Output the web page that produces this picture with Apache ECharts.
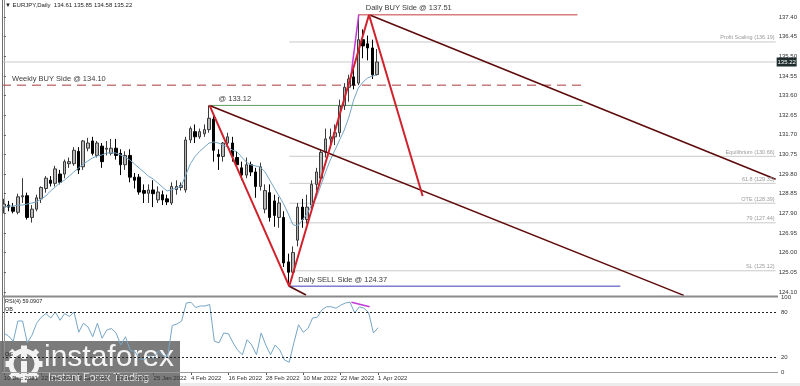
<!DOCTYPE html>
<html><head><meta charset="utf-8">
<script src="https://cdn.jsdelivr.net/npm/echarts@6/dist/echarts.min.js"></script>
<style>html,body{margin:0;padding:0;background:#fff;overflow:hidden}#c{width:800px;height:386px}</style>
</head><body><div id="c"></div>
<script>
// ---------------- DATA ----------------
const symbolTitle = 'EURJPY,Daily';
const lastOHLC = [134.61, 135.85, 134.58, 135.22];
const dateLabels = ['10 Dec 2021','22 Dec 2021','3 Jan 2022','13 Jan 2022','25 Jan 2022','4 Feb 2022','16 Feb 2022','28 Feb 2022','10 Mar 2022','22 Mar 2022','1 Apr 2022'];
const barsPerLabel = 8;
const opens  = [128.20,128.30,128.20,127.95,128.70,128.75,127.70,128.10,128.60,129.10,129.50,129.35,129.80,129.80,130.30,130.30,130.90,130.15,131.05,131.40,130.70,131.15,131.00,130.80,131.05,130.80,130.25,130.70,129.65,129.65,129.00,128.87,129.03,128.55,128.80,128.60,128.40,129.05,129.15,129.03,131.45,131.85,131.60,131.75,131.95,132.45,130.75,130.65,131.30,131.30,130.60,130.10,129.75,130.25,129.90,129.20,128.10,128.90,128.50,127.70,127.70,125.55,125.05,126.60,128.20,127.60,128.30,129.30,129.60,130.85,131.50,131.60,131.80,133.10,134.00,134.50,134.20,136.30,136.10,135.90,134.61];
const highs  = [128.60,128.50,128.40,128.85,129.60,128.90,128.30,128.80,129.20,129.70,129.70,130.20,130.00,130.50,130.60,131.10,131.10,131.45,131.55,131.60,131.40,131.30,131.40,131.50,131.50,131.00,130.90,131.00,129.85,129.80,129.30,129.30,129.50,129.20,129.00,128.80,129.40,129.50,129.40,131.60,132.10,132.20,132.00,132.20,133.12,132.60,131.00,131.35,131.80,131.60,130.90,130.40,130.60,130.40,130.10,130.35,129.30,129.30,128.80,128.70,128.00,125.95,126.30,128.40,128.60,128.80,129.50,130.10,131.00,132.00,132.00,132.20,133.40,134.20,134.60,135.00,137.51,136.80,136.50,136.30,135.85];
const lows   = [127.90,128.00,127.90,127.85,128.40,127.60,127.45,128.00,128.40,128.90,129.20,129.20,129.30,129.60,130.10,130.20,129.80,130.00,130.90,130.70,130.60,130.10,130.70,130.70,130.50,129.75,130.00,129.40,129.10,128.80,128.40,128.40,128.20,128.40,128.30,128.30,128.30,128.80,129.00,128.90,131.30,131.30,131.50,131.60,131.80,130.40,130.00,130.40,131.10,130.40,130.10,129.50,129.60,129.70,128.65,129.00,127.90,127.50,127.25,127.20,125.30,124.37,124.80,126.30,127.20,127.40,128.10,129.00,129.50,130.60,131.20,131.20,131.60,132.90,133.30,133.90,134.10,135.40,135.30,134.40,134.58];
const closes = [128.35,128.20,128.00,128.70,128.75,127.70,128.10,128.65,129.15,129.60,129.35,130.05,129.40,130.40,130.40,130.95,130.00,131.40,131.30,130.80,131.30,130.40,131.05,131.05,130.70,130.25,130.70,129.65,129.50,128.93,128.87,129.03,128.85,128.93,128.55,128.45,129.20,129.20,129.25,131.45,132.00,131.60,131.85,131.95,132.50,130.95,130.65,131.30,131.60,130.65,130.25,129.75,130.25,129.90,129.20,130.15,129.00,127.70,127.80,128.40,125.50,125.05,126.00,128.20,127.60,128.20,129.30,129.90,130.85,131.50,131.60,131.80,133.10,134.00,134.40,134.10,136.30,136.00,135.90,134.60,135.22];
const maValues = [128.20,128.25,128.25,128.30,128.30,128.35,128.40,128.45,128.59,128.74,128.98,129.17,129.37,129.51,129.70,129.90,130.09,130.29,130.43,130.58,130.67,130.72,130.82,130.82,130.82,130.72,130.62,130.48,130.29,130.09,129.90,129.70,129.56,129.37,129.17,128.98,129.05,129.12,129.20,129.75,130.30,130.65,130.90,131.10,131.30,131.35,131.30,131.20,131.11,130.96,130.87,130.62,130.38,130.24,130.19,130.14,129.90,129.51,129.12,128.74,128.35,127.87,127.35,127.28,127.57,127.87,128.30,128.64,129.27,129.90,130.48,130.96,131.45,131.93,132.56,133.38,133.96,134.25,134.45,134.54,134.59];
const rsiLabel = 'RSI(4) 59.0907';
const rsiValues = [52,48,41,68,68,39,49,65,73,78,72,80,69,78,74,80,53,65,60,47,65,45,56,58,52,36,47,29,27,18,16,22,18,28,22,20,62,64,68,92,93,86,88,88,90,41,39,52,51,39,29,23,43,36,23,52,36,23,36,29,16,13,39,63,53,58,72,73,83,87,87,85,89,92,93,79,87,85,79,52,59.09];
const priceTicks = [124.10,125.05,126.00,126.95,127.90,128.85,129.80,130.75,131.70,132.65,133.60,134.55,135.50,136.45,137.40];
const rsiTicks = [0,20,80,100];
const rsiBands = [20,80];
const bidPrice = 135.22;
// analysis objects (bar index, price)
const fibNames  = ['Profit Scaling','Equilibrium','61.8','OTE','79','SL'];
const fibPrices = [136.19,130.66,129.35,128.39,127.44,125.12];
const fibStartBar = 61.2;
const weeklyBuy = {price:134.10, from:-0.4, to:124.1, text:'Weekly BUY Side @ 134.10'};
const swingHigh = {price:133.12, from:44.1, to:124.1, text:'@ 133.12'};
const dailyBuy  = {price:137.51, from:76.1, to:123.0, text:'Daily BUY Side @ 137.51'};
const dailySell = {price:124.37, from:61.2, to:132.2, text:'Daily SELL Side @ 124.37'};
const zigzagBars   = [44.1, 61.2, 78.3, 89.8];
const zigzagPrices = [133.12, 124.37, 137.51, 128.74];
const channelUpper = [[78.6, 137.48], [165.5, 129.55]];
const channelLower = [[44.1, 133.12], [145.8, 123.93]];
const channelBase  = [[61.2, 124.37], [64.8, 123.95]];
const magentaPrice = [[74.4, 134.50], [76.1, 137.51]];
const magentaRsi   = [[74.3, 93], [78.2, 87]];

// ---------------- LAYOUT ----------------
const X_MIN = -0.4, X_MAX = 165.5;
const FONT = '"Liberation Sans", Arial, sans-serif';
const chart = echarts.init(document.getElementById('c'));

const candleData = opens.map((o,i)=>[i, o, closes[i], lows[i], highs[i]]);
const maData = maValues.map((v,i)=>[i,v]);
const rsiData = rsiValues.map((v,i)=>[i,v]);
const dateTicks = dateLabels.map((d,k)=>k*barsPerLabel);

function seg(data, color, width, type, z){
  return {type:'line', xAxisIndex:0, yAxisIndex:0, data, symbol:'none', silent:true, animation:false,
    lineStyle:{color, width, type: type||'solid'}, z: z||3, clip:true};
}
function hline(o, color, width, type){ return seg([[o.from,o.price],[o.to,o.price]], color, width, type, 2); }

const series = [];
fibPrices.forEach(p=>series.push(seg([[fibStartBar,p],[X_MAX,p]], '#c9c9c9', 1, 'solid', 1)));
series.push(seg([[X_MIN,bidPrice],[X_MAX,bidPrice]], '#c9c9c9', 1, 'solid', 1));
series.push(hline(weeklyBuy, '#a83a3a', 1, [9,6]));
series.push(hline(swingHigh, '#5f9c5f', 1));
series.push(hline(dailyBuy, '#d97c7c', 1.5));
series.push(hline(dailySell, '#7f7fcc', 1.5));
series.push({type:'candlestick', xAxisIndex:0, yAxisIndex:0, data:candleData, encode:{x:0,y:[1,2,3,4]},
  barWidth:3, animation:false, z:4,
  itemStyle:{color:'#b9b9b9', color0:'#000000', borderColor:'#3a3a3a', borderColor0:'#000000', borderWidth:1}});
series.push({type:'line', xAxisIndex:0, yAxisIndex:0, data:maData, symbol:'none', animation:false, z:5,
  lineStyle:{color:'#76a6c6', width:1}});
series.push(seg(channelLower, '#5e0b0b', 1.6, 'solid', 6));
series.push(seg(channelUpper, '#5e0b0b', 1.6, 'solid', 6));
series.push(seg(channelBase, '#5e0b0b', 1.6, 'solid', 6));
series.push(seg(magentaPrice, '#c23ad6', 1.5, 'solid', 6));
series.push(seg(zigzagBars.map((b,i)=>[b, zigzagPrices[i]]), '#d0222c', 2, 'solid', 7));
// RSI
series.push({type:'line', xAxisIndex:1, yAxisIndex:1, data:rsiData, symbol:'none', animation:false, z:3,
  lineStyle:{color:'#76a6c6', width:1},
  markLine:{silent:true, symbol:'none', animation:false, label:{show:false},
    lineStyle:{color:'#222', width:1, type:[2,2]},
    data: rsiBands.map(v=>({yAxis:v}))}});
series.push({type:'line', xAxisIndex:1, yAxisIndex:1, data:magentaRsi, symbol:'none', animation:false, z:4,
  lineStyle:{color:'#c23ad6', width:1.5}});

const axisText = {color:'#333', fontSize:6, fontFamily:FONT};
const option = {
  animation:false,
  backgroundColor:'#ffffff',
  grid:[
    {left:2, right:22, top:0, height:296},
    {left:2, right:22, top:297, height:75}
  ],
  xAxis:[
    {type:'value', gridIndex:0, min:X_MIN, max:X_MAX, show:false},
    {type:'value', gridIndex:1, min:X_MIN, max:X_MAX,
      axisLine:{show:false}, splitLine:{show:false},
      axisTick:{show:true, customValues:dateTicks, length:3, lineStyle:{color:'#555'}},
      axisLabel:{show:true, customValues:dateTicks, formatter:v=>dateLabels[Math.round(v/barsPerLabel)]||'', align:'left', margin:3, ...axisText}}
  ],
  yAxis:[
    {type:'value', gridIndex:0, position:'right', min:123.90, max:138.22, scale:true,
      axisLine:{show:true, lineStyle:{color:'#8f8f8f', width:1}},
      axisTick:{show:true, customValues:priceTicks, length:2, lineStyle:{color:'#555'}},
      axisLabel:{show:true, customValues:priceTicks, formatter:v=>v.toFixed(2), margin:3, ...axisText},
      splitLine:{show:false}},
    {type:'value', gridIndex:1, position:'right', min:0, max:100,
      axisLine:{show:true, lineStyle:{color:'#8f8f8f', width:1}},
      axisTick:{show:false},
      axisLabel:{show:true, customValues:rsiTicks, margin:3, ...axisText},
      splitLine:{show:false}}
  ],
  series
};
chart.setOption(option);

// ---------------- TEXT & DECOR ----------------
const P = (b,p)=>chart.convertToPixel({xAxisIndex:0,yAxisIndex:0},[b,p]);
const R = (b,v)=>chart.convertToPixel({xAxisIndex:1,yAxisIndex:1},[b,v]);
function txt(x,y,t,size,color,align,valign,extra){
  return Object.assign({type:'text', silent:true, z:50, style:{x, y, text:t, fill:color, fontSize:size, fontFamily:FONT,
    align:align||'left', verticalAlign:valign||'bottom', textAlign:align||'left', textVerticalAlign:valign||'bottom'}}, extra||{});
}
const g = [];
// frame
g.push({type:'line', silent:true, z:40, shape:{x1:2.5,y1:0,x2:2.5,y2:372}, style:{stroke:'#6e6e6e', lineWidth:1}});
g.push({type:'line', silent:true, z:40, shape:{x1:2,y1:296.5,x2:778,y2:296.5}, style:{stroke:'#8a8a8a', lineWidth:2}});
g.push({type:'line', silent:true, z:40, shape:{x1:2,y1:372.5,x2:778,y2:372.5}, style:{stroke:'#9a9a9a', lineWidth:1}});
g.push({type:'rect', silent:true, z:0, shape:{x:0,y:383,width:800,height:3}, style:{fill:'#ececec'}});
// header
g.push(txt(5,5,'\u25BC '+symbolTitle+'  '+lastOHLC.map(v=>v.toFixed(2)).join(' '),6,'#222','left','middle'));
// level labels
let a;
a = P(dailyBuy.from, dailyBuy.price); g.push(txt(a[0]+7, a[1]-2.5, dailyBuy.text, 7.5, '#3c3c3c'));
a = P(weeklyBuy.from, weeklyBuy.price); g.push(txt(a[0]+10, a[1]-2.5, weeklyBuy.text, 7.5, '#3c3c3c'));
a = P(swingHigh.from, swingHigh.price); g.push(txt(a[0]+9, a[1]-2.5, swingHigh.text, 7.5, '#3c3c3c'));
a = P(dailySell.from, dailySell.price); g.push(txt(a[0]+9, a[1]-2.5, dailySell.text, 7.5, '#3c3c3c'));
fibPrices.forEach((p,i)=>{ const q=P(X_MAX,p); g.push(txt(q[0]-1, q[1]-1, fibNames[i]+' ('+p.toFixed(2)+')', 5.5, '#9a9a9a','right','bottom')); });
// bid tag
a = P(X_MAX, bidPrice);
g.push({type:'rect', silent:true, z:45, shape:{x:a[0]+1, y:a[1]-4.5, width:20, height:9}, style:{fill:'#1f2d2d'}});
g.push(txt(a[0]+11, a[1], bidPrice.toFixed(2), 6, '#ffffff','center','middle',{z:46}));
// RSI labels
a = R(X_MIN, 100); g.push(txt(a[0]+3, a[1]+4, rsiLabel, 5.5, '#222','left','middle'));
a = R(X_MIN, 80); g.push(txt(a[0]+3, a[1]-3, 'OB', 5.5, '#222','left','middle'));
a = R(X_MIN, 20); g.push(txt(a[0]+3, a[1]-3, 'OS', 5.5, '#222','left','middle'));
// watermark
const wm = {type:'group', z:60, silent:true, children:[
  {type:'rect', shape:{x:0,y:341,width:180,height:45}, style:{fill:'rgba(105,105,105,0.88)'}},
  {type:'circle', shape:{cx:24,cy:364,r:13}, style:{fill:'none', stroke:'#f2f2f2', lineWidth:5}},
  {type:'circle', shape:{cx:24,cy:356,r:3.2}, style:{fill:'#f2f2f2'}},
  {type:'rect', shape:{x:21,y:361,width:6,height:16}, style:{fill:'#f2f2f2'}},
  {type:'text', style:{x:44,y:358,text:'instaforex',fill:'#f4f4f4',fontSize:30,fontFamily:FONT,align:'left',verticalAlign:'middle',textAlign:'left',textVerticalAlign:'middle'}},
  {type:'text', style:{x:48,y:378,text:'Instant Forex Trading',fill:'#e8e8e8',fontSize:10.7,fontFamily:FONT,align:'left',verticalAlign:'middle',textAlign:'left',textVerticalAlign:'middle'}}
]};
for(let k=0;k<8;k++){ const ang=k*Math.PI/4; wm.children.push({type:'rect', shape:{x:-2.5,y:-3,width:5,height:6}, rotation:-ang, x:24+16*Math.cos(ang), y:364-16*Math.sin(ang), style:{fill:'#f2f2f2'}}); }
g.push(wm);
chart.setOption({graphic:g});
</script></body></html>
